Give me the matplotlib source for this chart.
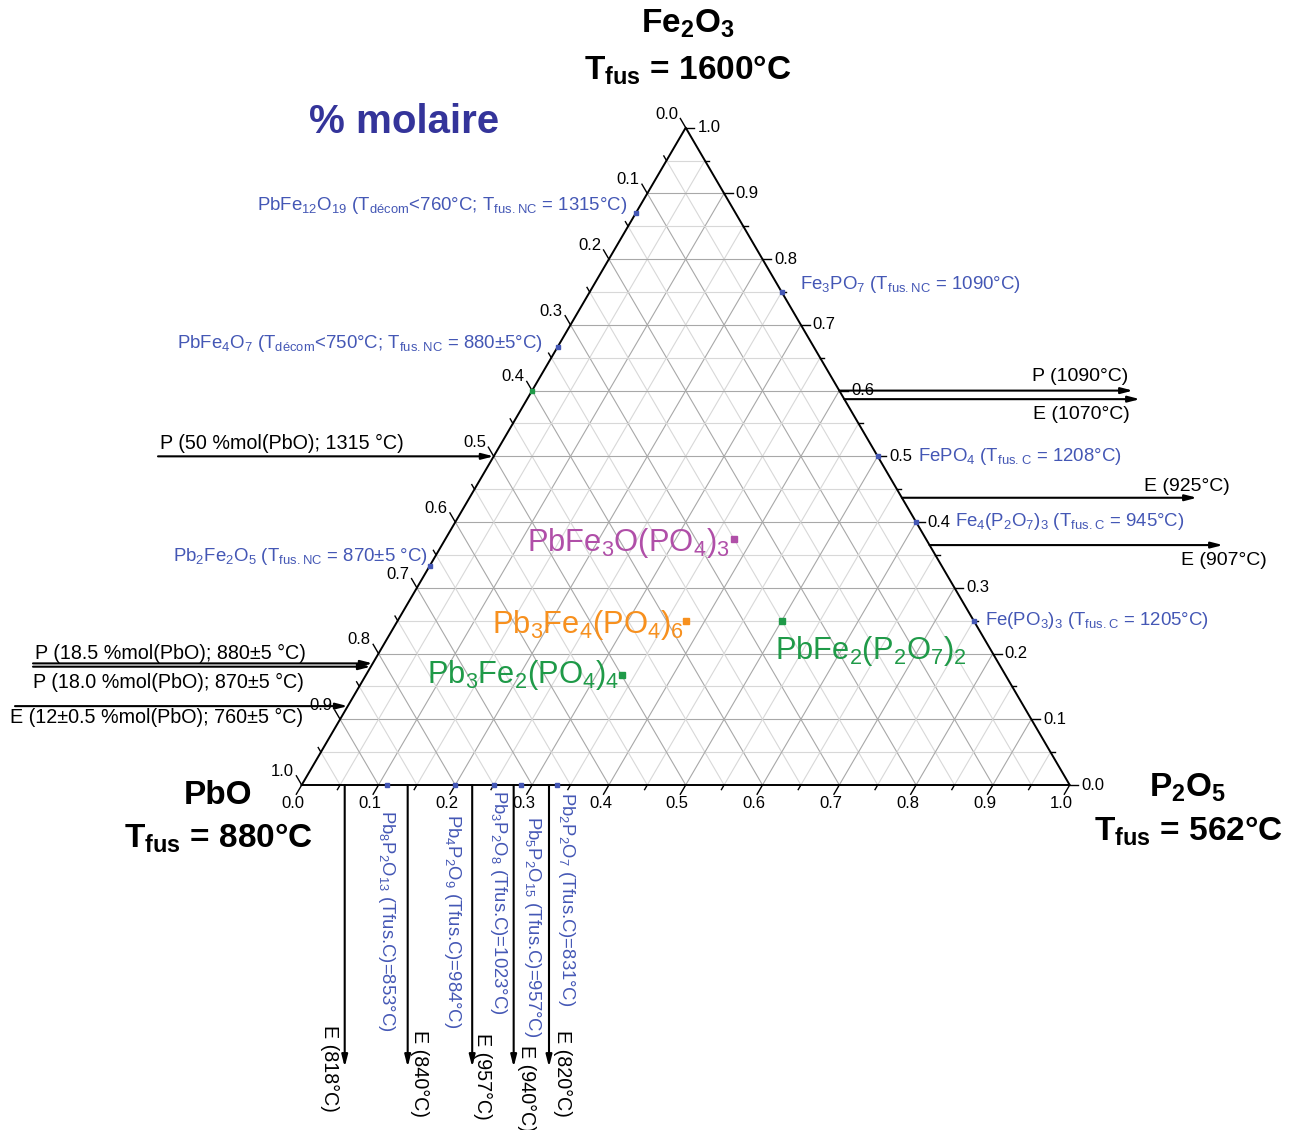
import numpy as np
import matplotlib
matplotlib.use("Agg")
import matplotlib.pyplot as plt
from matplotlib.transforms import Affine2D

plt.rcParams['font.family'] = ['Liberation Sans', 'DejaVu Sans']
plt.rcParams['mathtext.fontset'] = 'custom'
plt.rcParams['mathtext.rm'] = 'Liberation Sans'
plt.rcParams['mathtext.default'] = 'regular'

# --- data (mole fractions) ---
# PbO-Fe2O3 join : Fe2O3 fraction
left_fe = [0.87, 0.667, 0.333]
left_names = [r'PbFe$_{12}$O$_{19}$ (T$_{décom}$<760°C; T$_{fus.NC}$ = 1315°C)',
              r'PbFe$_4$O$_7$ (T$_{décom}$<750°C; T$_{fus.NC}$ = 880±5°C)',
              r'Pb$_2$Fe$_2$O$_5$ (T$_{fus.NC}$ = 870±5 °C)']
left_extra_fe = [0.6]  # green point on the PbO-Fe2O3 join

# Fe2O3-P2O5 join : Fe2O3 fraction
right_fe = [0.75, 0.5, 0.4, 0.25]
right_names = [r'Fe$_3$PO$_7$ (T$_{fus.NC}$ = 1090°C)',
               r'FePO$_4$ (T$_{fus.C}$ = 1208°C)',
               r'Fe$_4$(P$_2$O$_7$)$_3$ (T$_{fus.C}$ = 945°C)',
               r'Fe(PO$_3$)$_3$ (T$_{fus.C}$ = 1205°C)']

# PbO-P2O5 join : P2O5 fraction
bottom_p = [0.111, 0.2, 0.25, 0.286, 0.333]
bottom_names = [r'Pb$_8$P$_2$O$_{13}$ (Tfus.C)=853°C)',
                r'Pb$_4$P$_2$O$_9$ (Tfus.C)=984°C)',
                r'Pb$_3$P$_2$O$_8$ (Tfus.C)=1023°C)',
                r'Pb$_5$P$_2$O$_{15}$ (Tfus.C)=957°C)',
                r'Pb$_2$P$_2$O$_7$ (Tfus.C)=831°C)']

# invariant points on the joins
eut_bottom_p = [0.056, 0.138, 0.222, 0.276, 0.322]
eut_bottom_lab = ['E (818°C)', 'E (840°C)', 'E (957°C)', 'E (940°C)', 'E (820°C)']
inv_left_fe = [0.5, 0.185, 0.18, 0.12]
inv_left_lab = ['P (50 %mol(PbO); 1315 °C)', 'P (18.5 %mol(PbO); 880±5 °C)',
                'P (18.0 %mol(PbO); 870±5 °C)', 'E (12±0.5 %mol(PbO); 760±5 °C)']
inv_right_fe = [0.6, 0.587, 0.437, 0.365]
inv_right_lab = ['P (1090°C)', 'E (1070°C)', 'E (925°C)', 'E (907°C)']

# ternary compounds (PbO, Fe2O3, P2O5)
tern_names = [r'PbFe$_3$O(PO$_4$)$_3$', r'Pb$_3$Fe$_4$(PO$_4$)$_6$',
              r'Pb$_3$Fe$_2$(PO$_4$)$_4$', r'PbFe$_2$(P$_2$O$_7$)$_2$']
tern_pbo = [0.25, 0.375, 0.5, 0.25]
tern_fe = [0.375, 0.25, 0.1667, 0.25]
tern_p = [0.375, 0.375, 0.3333, 0.5]
tern_colors = ['#b04fa8', '#f7901e', '#1f9a48', '#1f9a48']

blue = '#4457b5'
H = np.sqrt(3) / 2


def tern(fe, p):
    """ternary (Fe2O3, P2O5) fractions -> cartesian"""
    fe = np.asarray(fe, float)
    p = np.asarray(p, float)
    return p + fe / 2, fe * H


# pixel geometry of the reference
X0, Y0, SX, SY = 301.7, 785.0, 768.0, 759.0
W, HT = 1296, 1130

fig = plt.figure(figsize=(W / 100, HT / 100), dpi=100)
ax = fig.add_axes([0, 0, 1, 1])
ax.set_xlim(-X0 / SX, (W - X0) / SX)
ax.set_ylim(-(HT - Y0) / SY, Y0 / SY)
ax.axis('off')
pix = Affine2D().scale(1 / W, -1 / HT).translate(0, 1) + fig.transFigure


def px2x(v):
    return (v - X0) / SX


def px2y(v):
    return (Y0 - v) / SY


# grid
for k in range(1, 20):
    v = k / 20
    col = '#a8a8a8' if k % 2 == 0 else '#d8d8d8'
    for a, b in [(tern([v, v], [0, 1 - v])), (tern([0, 1 - v], [v, v])),
                 (tern([0, 1 - v], [1 - v, 0]))]:
        ax.plot(a, b, color=col, lw=0.8, zorder=1)

# triangle
tx, ty = tern([0, 0, 1, 0], [0, 1, 0, 0])
ax.plot(tx, ty, color='black', lw=1.4, zorder=3)

# ticks
for k in range(21):
    v = k / 20
    L = 0.014 if k % 2 == 0 else 0.007
    # left axis: PbO fraction
    ex, ey = tern(1 - v, 0)
    ax.plot([ex, ex - 0.5 * L], [ey, ey + H * L], color='black', lw=1, zorder=3)
    # right axis: Fe2O3 fraction
    rx, ry = tern(v, 1 - v)
    ax.plot([rx, rx + L * 0.8], [ry, ry], color='black', lw=1, zorder=3)
    # bottom axis: P2O5 fraction
    bx, by = tern(0, v)
    ax.plot([bx, bx - 0.5 * L], [by, by - H * L], color='black', lw=1, zorder=3)
    if k % 2 == 0:
        lab = f'{v:.1f}'
        ax.text(ex - 0.5 * L - 0.003, ey + H * L - 0.004, lab, ha='right',
                va='bottom', fontsize=12)
        ax.text(rx + L * 0.8 + 0.004, ry, lab, ha='left', va='center',
                fontsize=12)
        ax.text(bx - 0.5 * L - 0.004, by - H * L - 0.003, lab, ha='center',
                va='top', fontsize=12)

# binary compounds
lx, ly = tern(left_fe, [0] * len(left_fe))
ax.plot(lx, ly, 's', color=blue, ms=2.5, zorder=4)
gx, gy = tern(left_extra_fe, [0])
ax.plot(gx, gy, 's', color='#1f9a48', ms=2.5, zorder=4)
rx, ry = tern(right_fe, 1 - np.array(right_fe))
ax.plot(rx, ry, 's', color=blue, ms=2.5, zorder=4)
bx, by = tern([0] * len(bottom_p), bottom_p)
ax.plot(bx, by, 's', color=blue, ms=2.5, zorder=4)

# ternary compounds
cx, cy = tern(tern_fe, tern_p)
for i in range(len(tern_names)):
    ax.plot(cx[i], cy[i], 's', color=tern_colors[i], ms=4, zorder=4)

aprops = dict(arrowstyle='-|>,head_length=0.7,head_width=0.18', color='black',
              lw=1.5, shrinkA=0, shrinkB=0)

# left arrows
left_tail = [158, 33, 33, 15]
for f, t in zip(inv_left_fe, left_tail):
    x, y = tern(f, 0)
    ax.annotate('', xy=(x, y), xytext=(px2x(t), y), arrowprops=aprops, zorder=5)

# right arrows
right_tip = [1133, 1140, 1197, 1223]
for f, t in zip(inv_right_fe, right_tip):
    x, y = tern(f, 1 - f)
    ax.annotate('', xy=(px2x(t), y), xytext=(x, y), arrowprops=aprops, zorder=5)

# bottom arrows
for p in eut_bottom_p:
    x, y = tern(0, p)
    ax.annotate('', xy=(x, px2y(1067)), xytext=(x, y), arrowprops=aprops, zorder=5)

# --- texts (positions in reference pixels) ---
bold = dict(fontsize=24, fontweight='bold', ha='center', va='center',
            transform=pix)
ax.text(688, 24, r'Fe$_2$O$_3$', **bold)
ax.text(688, 70, r'T$_{fus}$ = 1600°C', **bold)
ax.text(218, 795, 'PbO', **bold)
ax.text(218, 838, r'T$_{fus}$ = 880°C', **bold)
ax.text(1188, 788, r'P$_2$O$_5$', **bold)
ax.text(1188, 831, r'T$_{fus}$ = 562°C', **bold)
ax.text(404, 122, '% molaire', fontsize=29, fontweight='bold', color='#34349a',
        ha='center', va='center', transform=pix)

for s, (x, y) in zip(left_names, [(627, 210), (543, 348), (428, 561)]):
    ax.text(x, y, s, ha='right', va='baseline', fontsize=13.4, color=blue,
            transform=pix)
for s, (x, y) in zip(right_names, [(800, 289), (918, 461), (955, 526), (985, 625)]):
    ax.text(x, y, s, ha='left', va='baseline', fontsize=13.4, color=blue,
            transform=pix)

for s, (x, y) in zip(inv_left_lab, [(160, 449), (35, 659), (33, 688), (10, 723)]):
    ax.text(x, y, s, ha='left', va='baseline', fontsize=14.2, transform=pix)
for s, (x, y) in zip(inv_right_lab, [(1128, 381), (1130, 419), (1230, 491), (1267, 565)]):
    ax.text(x, y, s, ha='right', va='baseline', fontsize=14, transform=pix)

for s, (x, y) in zip(eut_bottom_lab, [(330, 1025), (420, 1030), (483, 1033),
                                      (527, 1045), (563, 1030)]):
    ax.text(x, y, s, ha='center', va='top', rotation=-90, fontsize=14.2,
            transform=pix)
for s, (x, y) in zip(bottom_names, [(386, 810), (453, 814), (498, 790),
                                    (533, 816), (567, 792)]):
    ax.text(x, y, s, ha='center', va='top', rotation=-90, fontsize=13.3,
            color=blue, transform=pix)

for s, c, (x, y) in zip(tern_names, tern_colors,
                        [(527, 551), (492, 633), (427, 683), (775, 659)]):
    ax.text(x, y, s, ha='left', va='baseline', fontsize=22.2, color=c,
            transform=pix)

fig.savefig('out.png', dpi=100)
